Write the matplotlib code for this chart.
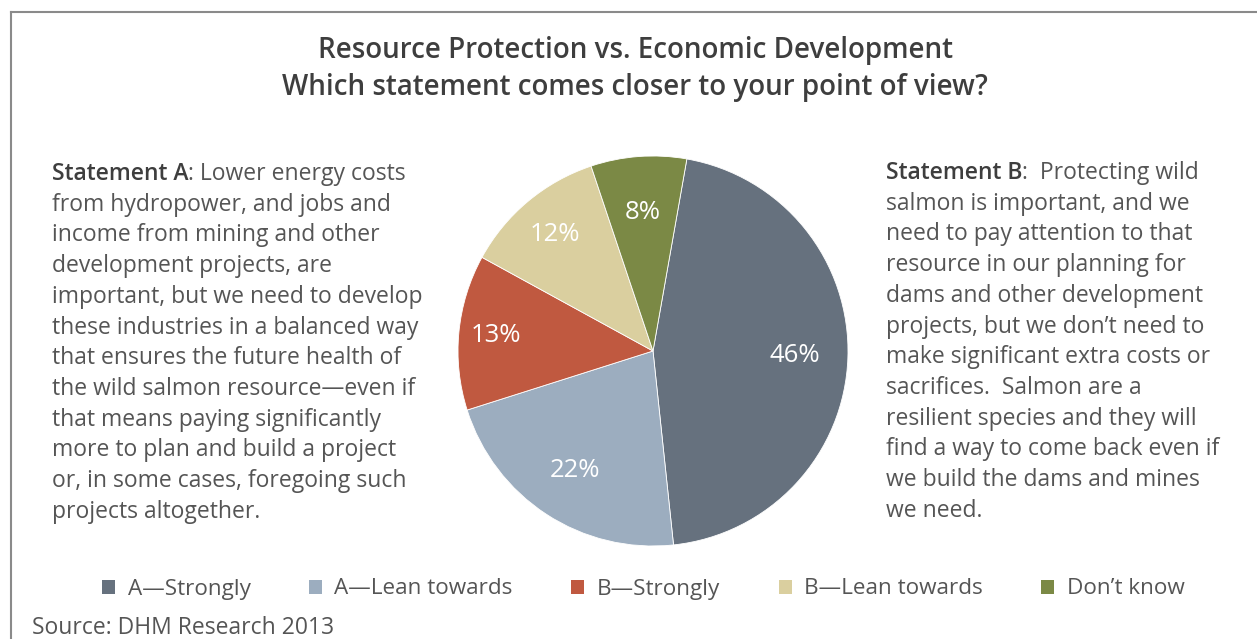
import matplotlib.pyplot as plt
from matplotlib.patches import Patch
import numpy as np

plt.rcParams['font.family'] = ['Open Sans', 'DejaVu Sans']

# Data
categories = ["A\u2014Strongly", "A\u2014Lean towards", "B\u2014Strongly",
              "B\u2014Lean towards", "Don\u2019t know"]
values = [46, 22, 13, 12, 8]
colors = ["#66717e", "#9cadbf", "#c05940", "#dacf9f", "#7b8945"]
label_r = [0.73, 0.73, 0.81, 0.78, 0.71]

title = ("Resource Protection vs. Economic Development\n"
         "Which statement comes closer to your point of view?")
lines_a = ["from hydropower, and jobs and",
           "income from mining and other",
           "development projects, are",
           "important, but we need to develop",
           "these industries in a balanced way",
           "that ensures the future health of",
           "the wild salmon resource\u2014even if",
           "that means paying significantly",
           "more to plan and build a project",
           "or, in some cases, foregoing such",
           "projects altogether."]
lines_b = ["salmon is important, and we",
           "need to pay attention to that",
           "resource in our planning for",
           "dams and other development",
           "projects, but we don\u2019t need to",
           "make significant extra costs or",
           "sacrifices.  Salmon are a",
           "resilient species and they will",
           "find a way to come back even if",
           "we build the dams and mines",
           "we need."]

W, H = 1257, 639
fig = plt.figure(figsize=(W / 100, H / 100), dpi=100)
TXT = "#555555"
DARK = "#3e3e3e"

def fx(x):
    return x / W

def fy(y):
    return 1 - y / H

# frame
fig.add_artist(plt.Line2D([fx(11), fx(11)], [0, fy(12)], color="#8a8a8a", lw=1.5))
fig.add_artist(plt.Line2D([fx(11), 1], [fy(12), fy(12)], color="#8a8a8a", lw=1.5))

fig.text(fx(635), fy(69), title, ha="center", va="center", fontsize=20,
         fontweight="semibold", color=DARK, linespacing=1.35)

# pie
cx, cy, r = 653, 351, 195
ax = fig.add_axes([fx(cx - r), fy(cy + r), 2 * r / W, 2 * r / H])
wedges, _ = ax.pie(values, colors=colors, startangle=80, counterclock=False,
                   wedgeprops=dict(linewidth=0.6, edgecolor="white"))
for w, v, d in zip(wedges, values, label_r):
    ang = np.deg2rad((w.theta1 + w.theta2) / 2)
    ax.text(d * np.cos(ang), d * np.sin(ang), f"{v}%", ha="center", va="center",
            fontsize=18.5, color="white")
ax.set_xlim(-1, 1)
ax.set_ylim(-1, 1)
ax.set_aspect("auto")
ax.axis("off")

# statements
renderer = fig.canvas.get_renderer()
spacing = 30.7
fs = 16.5

def statement(x, y0, head, rest, lines):
    t = fig.text(fx(x), fy(y0), head, fontsize=fs, fontweight="semibold", color=DARK,
                 ha="left", va="center")
    bb = t.get_window_extent(renderer)
    fig.text(bb.x1 / W, fy(y0), rest, fontsize=fs, color=TXT, ha="left", va="center")
    for i, ln in enumerate(lines):
        fig.text(fx(x), fy(y0 + (i + 1) * spacing), ln, fontsize=fs, color=TXT,
                 ha="left", va="center")

statement(52, 174, "Statement A", ": Lower energy costs", lines_a)
statement(886, 173, "Statement B", ":  Protecting wild", lines_b)

# legend
handles = [Patch(facecolor=c, edgecolor="none") for c in colors]
fig.legend(handles, categories, loc="center left", bbox_to_anchor=(fx(82), fy(589)),
           ncol=5, frameon=False, fontsize=16.2, handlelength=0.58, handleheight=0.58,
           handletextpad=0.55, columnspacing=2.6, labelcolor=TXT)

fig.text(fx(32), fy(628), "Source: DHM Research 2013", fontsize=16.5, color=TXT,
         ha="left", va="center")

fig.savefig("out.png", dpi=100)
